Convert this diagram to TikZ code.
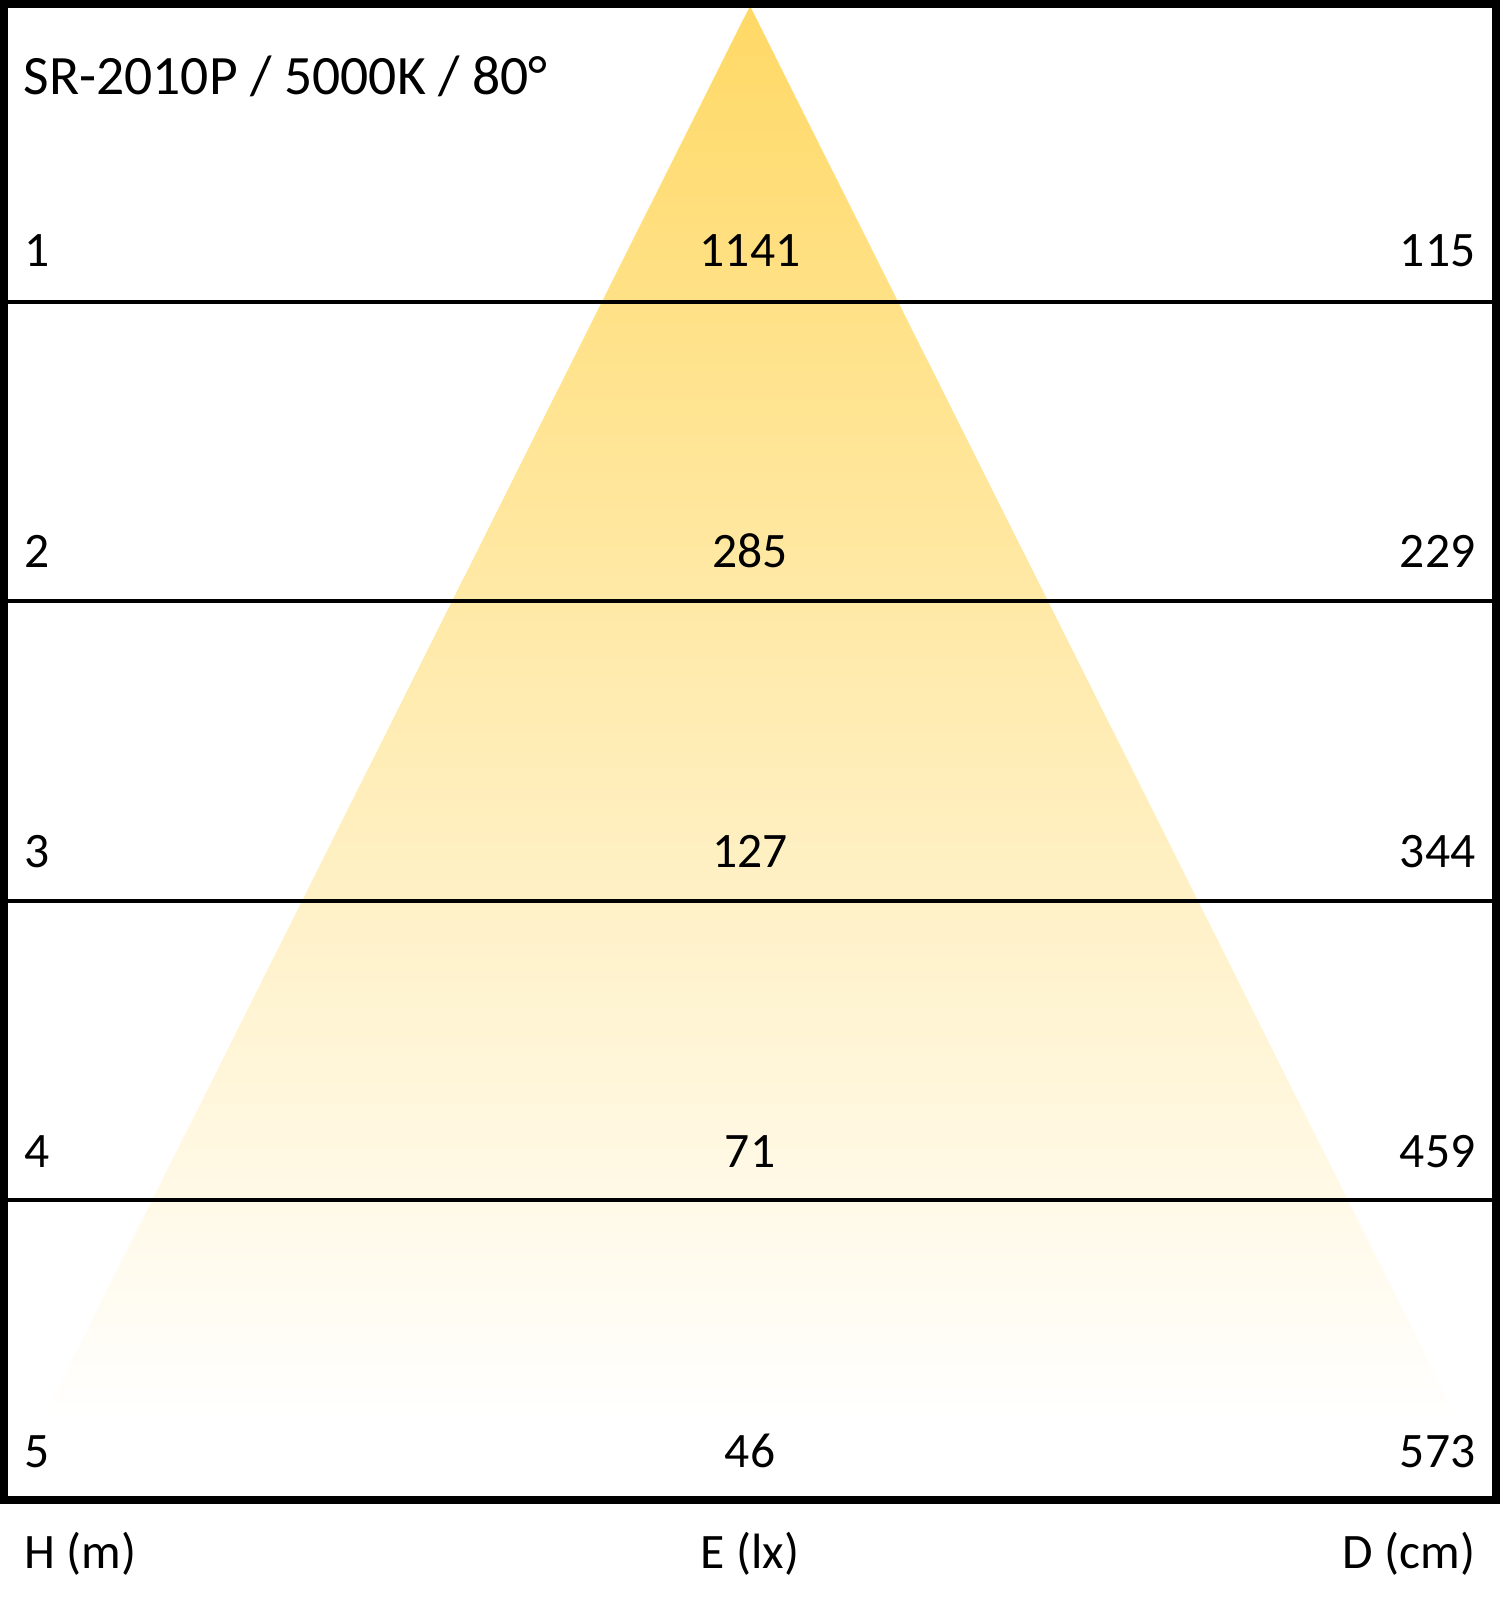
\documentclass[tikz,border=0pt]{standalone}
\usepackage{xcolor}
\usepackage{fontspec}
\setmainfont{Carlito}
\usepackage{tikz}
\usetikzlibrary{positioning}
\definecolor{mydark}{RGB}{0,0,0}
\definecolor{beamgold}{RGB}{255,217,102}
\tikzset{
  frame/.style={draw=mydark, line width=2.3pt},
  rule/.style={draw=mydark, line width=1.25pt},
  val/.style={font=\fontsize{14.1}{17}\selectfont, inner sep=0pt, text=mydark},
  title/.style={font=\fontsize{15.8}{19}\selectfont, inner sep=0pt, text=mydark}
}

\begin{document}
\begin{tikzpicture}[x=0.01cm, y=-0.01cm]
  \useasboundingbox (0,0) rectangle (1500,1600);

  % Beam
  \begin{scope}
    \clip (750,6) -- (1496,1496) -- (4,1496) -- cycle;
    \shade[top color=beamgold, bottom color=white] (4,6) rectangle (1496,1420);
  \end{scope}

  % Row lines
  \draw[rule] (4,302) -- (1496,302);
  \draw[rule] (4,601) -- (1496,601);
  \draw[rule] (4,901) -- (1496,901);
  \draw[rule] (4,1200) -- (1496,1200);

  % Frame
  \draw[frame] (4,4) rectangle (1496,1500);

  % Title
  \node[title, anchor=base west] (ttl) at (23,95) {SR-2010P / 5000K / 80°};

  % Heights
  \node[val, anchor=base west] (h1) at (24,267) {1};
  \node[val, anchor=base west] (h2) at (24,567) {2};
  \node[val, anchor=base west] (h3) at (24,867) {3};
  \node[val, anchor=base west] (h4) at (24,1167) {4};
  \node[val, anchor=base west] (h5) at (24,1467) {5};

  % Illuminance
  \node[val, anchor=base] (e1) at (750,267) {1141};
  \node[val, anchor=base] (e2) at (750,567) {285};
  \node[val, anchor=base] (e3) at (750,867) {127};
  \node[val, anchor=base] (e4) at (750,1167) {71};
  \node[val, anchor=base] (e5) at (750,1467) {46};

  % Diameters
  \node[val, anchor=base east] (d1) at (1476,267) {115};
  \node[val, anchor=base east] (d2) at (1476,567) {229};
  \node[val, anchor=base east] (d3) at (1476,867) {344};
  \node[val, anchor=base east] (d4) at (1476,1167) {459};
  \node[val, anchor=base east] (d5) at (1476,1467) {573};

  % Axis labels
  \node[val, anchor=base west] (hlab) at (24,1568) {H (m)};
  \node[val, anchor=base] (elab) at (750,1568) {E (lx)};
  \node[val, anchor=base east] (dlab) at (1476,1568) {D (cm)};
\end{tikzpicture}
\end{document}
